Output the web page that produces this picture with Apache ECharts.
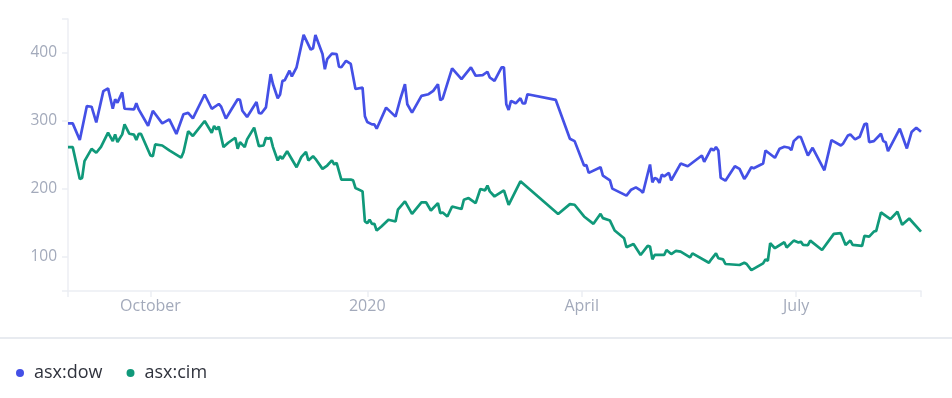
<!DOCTYPE html>
<html>
<head>
<meta charset="utf-8">
<script src="https://cdn.jsdelivr.net/npm/echarts@6/dist/echarts.min.js"></script>
<style>
html,body{margin:0;padding:0;background:#fff;}
#chart{width:952px;height:398px;}
</style>
</head>
<body>
<div id="chart"></div>
<script>
var seriesNames = ['asx:dow', 'asx:cim'];

var dowDates = ['2019-08-27','2019-08-29','2019-09-01','2019-09-04','2019-09-06','2019-09-08','2019-09-11','2019-09-13','2019-09-15','2019-09-16','2019-09-17','2019-09-19','2019-09-20','2019-09-24','2019-09-25','2019-09-26','2019-09-30','2019-10-02','2019-10-06','2019-10-09','2019-10-12','2019-10-15','2019-10-17','2019-10-19',
'2019-10-24','2019-10-27','2019-10-30','2019-10-31','2019-11-02','2019-11-04','2019-11-07','2019-11-08','2019-11-09','2019-11-11','2019-11-13','2019-11-15','2019-11-16','2019-11-17','2019-11-19','2019-11-21','2019-11-22','2019-11-24','2019-11-25','2019-11-26','2019-11-27','2019-11-29','2019-11-30','2019-12-02','2019-12-05','2019-12-08','2019-12-09','2019-12-10','2019-12-13','2019-12-14','2019-12-15','2019-12-17','2019-12-19','2019-12-20','2019-12-21','2019-12-23','2019-12-25',
'2019-12-27','2019-12-30','2019-12-31','2020-01-01','2020-01-03','2020-01-04','2020-01-05','2020-01-09','2020-01-13','2020-01-15','2020-01-17','2020-01-18','2020-01-20','2020-01-24','2020-01-27','2020-01-29','2020-01-31','2020-02-01','2020-02-02','2020-02-06','2020-02-10','2020-02-14','2020-02-16','2020-02-19','2020-02-21','2020-02-22','2020-02-24',
'2020-02-27','2020-02-28','2020-02-29','2020-03-01','2020-03-02','2020-03-03','2020-03-04','2020-03-06','2020-03-07','2020-03-08','2020-03-09','2020-03-21','2020-03-27','2020-03-29','2020-04-02','2020-04-03','2020-04-04','2020-04-09','2020-04-10','2020-04-13','2020-04-14','2020-04-20','2020-04-22','2020-04-24','2020-04-26','2020-04-27',
'2020-04-30','2020-05-01','2020-05-02','2020-05-03','2020-05-04','2020-05-05','2020-05-06','2020-05-08','2020-05-09','2020-05-13','2020-05-16','2020-05-22','2020-05-23','2020-05-26','2020-05-27','2020-05-28','2020-05-29','2020-05-30','2020-06-01','2020-06-05','2020-06-07','2020-06-09','2020-06-10','2020-06-12','2020-06-13','2020-06-17','2020-06-18','2020-06-22','2020-06-24','2020-06-26','2020-06-28',
'2020-06-29','2020-06-30','2020-07-02','2020-07-03','2020-07-06','2020-07-08','2020-07-13','2020-07-16','2020-07-20','2020-07-21','2020-07-23','2020-07-24','2020-07-26','2020-07-28','2020-07-30','2020-07-31','2020-08-01','2020-08-03','2020-08-06','2020-08-07','2020-08-08','2020-08-09','2020-08-14','2020-08-17','2020-08-19','2020-08-21','2020-08-23'];
var dowValues = [296.5,296.5,272,322,321,298,344,348,318,332,327,342,318,317,326,317,293,315,296.5,302.5,281,310,312,304,
339,318,325,321,303.5,315,332,331,315,306,317,328,312,311,320,369,354,333.5,339,359,360,374,365.5,379,426.6,405,407,426.6,398.5,376,391,399,398.5,380,379,388.6,384,
347,349,307,298.5,295,295,288.7,319.7,306.4,332,354,324.6,312.4,337,339.4,344.3,354,330.5,333,377.4,361.6,378.8,366.5,367.5,372.4,364,359,
378.8,378.8,324.6,316.3,329.6,328,326,333.5,325.7,326,339.4,331,274,270.4,234.5,235,223.7,232,219.7,212.8,200.5,190.2,199,202.4,198,194.5,
236,209.8,216.3,214.8,209,221,218.7,223.7,212.8,237.4,233.4,249.3,240,259.6,256.7,261.6,256.7,216.3,212.3,233.4,229.6,214.8,219.7,232,230.5,237.4,256.7,245.9,259.2,262.1,260.6,
257.1,270.4,276.9,276.3,249.3,260.6,227.5,271.9,264,267,278.8,280.3,272.9,276.9,295.1,296.5,268.9,270.4,281.3,270.4,268.9,255.6,288.7,259.6,283.7,290.2,284.2];

var cimDates = ['2019-08-27','2019-08-29','2019-09-01','2019-09-02','2019-09-03','2019-09-06','2019-09-08','2019-09-10','2019-09-13','2019-09-15','2019-09-16','2019-09-17','2019-09-19','2019-09-20','2019-09-22','2019-09-24','2019-09-25','2019-09-26','2019-09-27','2019-10-01','2019-10-02','2019-10-03','2019-10-06','2019-10-09','2019-10-14','2019-10-15','2019-10-17','2019-10-19',
'2019-10-24','2019-10-27','2019-10-28','2019-10-29','2019-10-30','2019-11-01','2019-11-03','2019-11-06','2019-11-07','2019-11-08','2019-11-10','2019-11-11','2019-11-14','2019-11-16','2019-11-18','2019-11-19','2019-11-20','2019-11-21','2019-11-22','2019-11-24','2019-11-25','2019-11-26','2019-11-28','2019-12-02','2019-12-04','2019-12-06','2019-12-07','2019-12-09','2019-12-10','2019-12-13','2019-12-15','2019-12-17','2019-12-18','2019-12-19','2019-12-21','2019-12-25',
'2019-12-26','2019-12-27','2019-12-30','2019-12-31','2020-01-01','2020-01-02','2020-01-03','2020-01-04','2020-01-05','2020-01-07','2020-01-10','2020-01-13','2020-01-14','2020-01-17','2020-01-20','2020-01-24','2020-01-26','2020-01-28','2020-01-31','2020-02-01','2020-02-02','2020-02-04','2020-02-06','2020-02-10','2020-02-11','2020-02-13','2020-02-16','2020-02-18','2020-02-20','2020-02-21','2020-02-22','2020-02-24',
'2020-02-28','2020-03-01','2020-03-06','2020-03-22','2020-03-27','2020-03-29','2020-04-02','2020-04-06','2020-04-09','2020-04-10','2020-04-13','2020-04-15','2020-04-19','2020-04-20','2020-04-23','2020-04-26',
'2020-04-29','2020-04-30','2020-05-01','2020-05-02','2020-05-06','2020-05-07','2020-05-09','2020-05-11','2020-05-13','2020-05-17','2020-05-18','2020-05-25','2020-05-26','2020-05-28','2020-05-29','2020-05-31','2020-06-01','2020-06-07','2020-06-09','2020-06-10','2020-06-12','2020-06-17','2020-06-18','2020-06-19','2020-06-20','2020-06-22','2020-06-26','2020-06-27',
'2020-06-30','2020-07-02','2020-07-03','2020-07-04','2020-07-06','2020-07-07','2020-07-12','2020-07-17','2020-07-20','2020-07-22','2020-07-24','2020-07-25','2020-07-29','2020-07-30','2020-08-01','2020-08-03','2020-08-04','2020-08-06','2020-08-10','2020-08-13','2020-08-15','2020-08-18','2020-08-23'];
var cimValues = [261.6,261.6,214.8,216.3,241,259,253.3,262,283,270.4,280.3,269,280.3,295,281.3,280,272,281,281,249.3,248.2,265.5,264,256.7,246,254,285,278,
300,282.8,292.6,287.7,291.7,261.6,268,275.4,259.2,269,261.6,273,290.2,263,264,275.4,274,275.4,261.6,242,248.2,244.4,255.6,232,246.8,254.7,242,248.2,244.4,229.6,234.5,242,236,238.5,213.8,213.8,
212.8,201.5,196.5,152.2,149.8,154.7,148.8,148.8,139,144.8,154.7,152.2,169.5,181.7,163.5,180.2,180.2,168.4,179.3,164.5,165.5,159.6,174.3,170.5,184.2,186.7,179.3,200,198,205,196.5,189,
198,176.8,211.3,163.1,177.8,176.8,159.6,148.8,163.5,157.2,153.6,138.9,127.6,114.3,119.2,103,
116.3,115.3,96.6,103,103,110.3,104.4,109,107.8,99.5,105.4,91.6,96.6,105.4,98.1,96.6,89.7,88.2,91.6,89.7,80.8,90.7,96.6,94.5,120.2,112.9,121.7,114,
124.1,121.2,122.6,117.7,117.3,124.1,110.3,134,135,117.7,124.1,117.7,116.3,131,130,137.4,138.4,165.5,155.7,166.5,147.3,156.6,137.4];

var xStart = '2019-08-27';
var xEnd = '2020-08-23';
var xTickDates = ['2019-10-01', '2020-01-01', '2020-04-01', '2020-07-01'];
var xTickLabels = ['October', '2020', 'April', 'July'];
var yTickValues = [100, 200, 300, 400];
var yMin = 50, yMax = 450;

function ts(s) { var p = s.split('-'); return Date.UTC(+p[0], +p[1] - 1, +p[2]); }
function pairs(d, v) { return d.map(function (x, i) { return [ts(x), v[i]]; }); }

var xLabelTs = xTickDates.map(ts);
var xTickTs = [ts(xStart)].concat(xLabelTs, [ts(xEnd)]);

var axisColor = '#eceef3';
var labelColor = '#a3aabb';
var font = 'Open Sans';

var chart = echarts.init(document.getElementById('chart'), null, { renderer: 'canvas' });
chart.setOption({
  animation: false,
  color: ['#4450e6', '#10997a'],
  textStyle: { fontFamily: font },
  grid: { left: 68, right: 31, top: 19, bottom: 107, containLabel: false },
  xAxis: {
    type: 'value',
    min: ts(xStart),
    max: ts(xEnd),
    axisLine: { show: true, lineStyle: { color: axisColor, width: 1.5 } },
    axisTick: { show: true, length: 6, lineStyle: { color: axisColor, width: 1.5 }, customValues: xTickTs },
    axisLabel: {
      customValues: xLabelTs,
      margin: 7,
      color: labelColor,
      fontSize: 16,
      fontFamily: font,
      formatter: function (val) {
        var idx = xLabelTs.indexOf(+val);
        return idx >= 0 ? xTickLabels[idx] : '';
      }
    },
    splitLine: { show: false }
  },
  yAxis: {
    type: 'value',
    min: yMin,
    max: yMax,
    axisLine: { show: true, lineStyle: { color: axisColor, width: 1.5 } },
    axisTick: { show: true, length: 6, lineStyle: { color: axisColor, width: 1.5 }, customValues: [yMin].concat(yTickValues, [yMax]) },
    axisLabel: { customValues: yTickValues, margin: 11, color: labelColor, fontSize: 15.5, fontFamily: font },
    splitLine: { show: false }
  },
  legend: {
    left: 11,
    top: 359,
    icon: 'circle',
    itemWidth: 8,
    itemHeight: 8,
    itemGap: 24,
    textStyle: { fontSize: 18, color: '#30333d', fontFamily: font, padding: [0, 0, 0, 5] },
    data: seriesNames
  },
  graphic: [{
    type: 'rect',
    shape: { x: 0, y: 337, width: 952, height: 2 },
    style: { fill: '#e8ebf0' },
    silent: true
  }],
  series: [
    { name: seriesNames[0], type: 'line', showSymbol: false, symbol: 'none', lineStyle: { width: 2.7 }, data: pairs(dowDates, dowValues) },
    { name: seriesNames[1], type: 'line', showSymbol: false, symbol: 'none', lineStyle: { width: 2.7 }, data: pairs(cimDates, cimValues) }
  ]
});
</script>
</body>
</html>
